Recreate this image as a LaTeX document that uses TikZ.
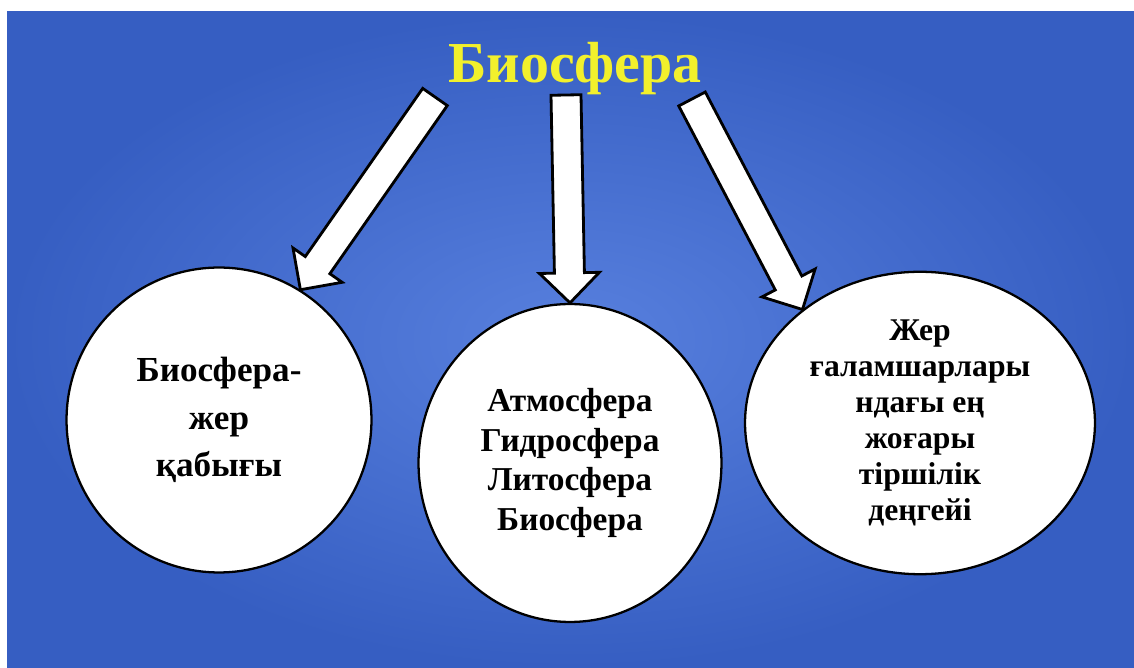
\documentclass[tikz,border=0pt]{standalone}
\usepackage{fontspec}
\setmainfont{Liberation Serif}
\usetikzlibrary{shapes.geometric,calc}
\definecolor{bgin}{RGB}{88,128,222}
\definecolor{bgout}{RGB}{54,94,194}
\definecolor{titleyellow}{RGB}{242,240,44}
\newcommand{\fatarrow}[2]{%
  \coordinate (fa base) at ($(#2)!0.6cm!(#1)$);
  \filldraw[fat arrow] ($(#1)!0.3cm!90:(#2)$) -- ($(fa base)!0.3cm!90:(#2)$) -- ($(fa base)!0.6cm!90:(#2)$) -- (#2) -- ($(fa base)!0.6cm!-90:(#2)$) -- ($(fa base)!0.3cm!-90:(#2)$) -- ($(#1)!0.3cm!-90:(#2)$) -- cycle;}
\begin{document}
\begin{tikzpicture}[x=0.02cm, y=-0.02cm]
\tikzset{bubble/.style={ellipse, draw=black, line width=1.3pt, fill=white, inner sep=0pt, align=center}, fat arrow/.style={draw=black, fill=white, line width=1.6pt, line join=miter}}
\fill[white] (0,0) rectangle (1134,668);
\shade[inner color=bgin, outer color=bgout] (7,12) rectangle (1134,668);
\node[anchor=base, text=titleyellow, font=\bfseries\fontsize{33}{40}\selectfont] (bio) at (575,83) {Биосфера};
\node[bubble, minimum width=6.1cm, minimum height=6.1cm, font=\bfseries\fontsize{20}{27}\selectfont] (crust) at (219,420) {Биосфера-\\жер\\қабығы};
\node[bubble, minimum width=6.06cm, minimum height=6.36cm, font=\bfseries\fontsize{19}{22.7}\selectfont] (spheres) at (570,463) {Атмосфера\\Гидросфера\\Литосфера\\Биосфера};
\node[bubble, minimum width=7cm, minimum height=6.05cm, font=\bfseries\fontsize{18}{20.5}\selectfont] (level) at (920,423) {Жер\\ғаламшарлары\\ндағы ең\\жоғары\\тіршілік\\деңгейі};
\coordinate (t1) at (435,97);
\coordinate (t2) at (566,95);
\coordinate (t3) at (692,99);
\fatarrow{t1}{crust.58}
\fatarrow{t2}{spheres.north}
\fatarrow{t3}{level.136}
\end{tikzpicture}
\end{document}
